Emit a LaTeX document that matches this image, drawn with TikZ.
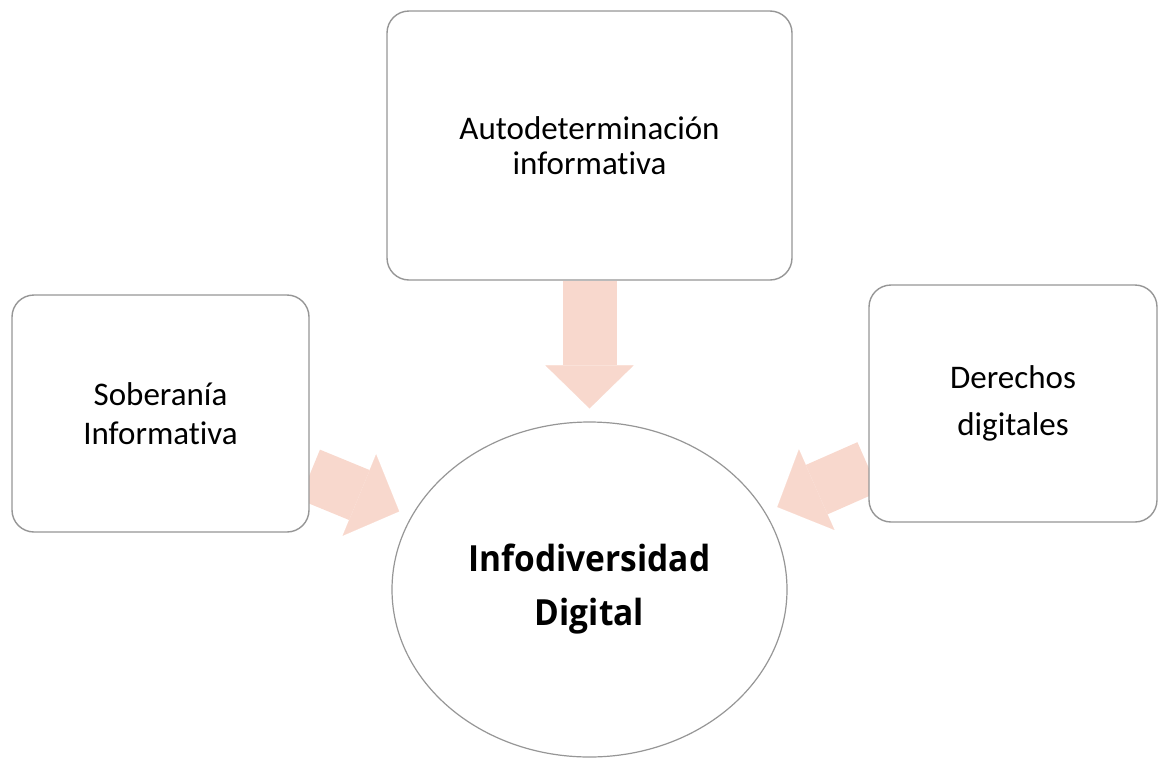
\documentclass[tikz,border=0pt]{standalone}
\usepackage{fontspec}
\setmainfont{Carlito}[Ligatures=NoCommon]
\newfontfamily\boldtitle[FakeStretch=0.93]{Open Sans}
\usetikzlibrary{arrows.meta,backgrounds,shapes.geometric}
\definecolor{arrowfill}{RGB}{248,216,205}
\definecolor{boxline}{RGB}{150,150,150}
\tikzset{
  stepbox/.style={draw=boxline, line width=1.4pt, fill=white, rounded corners=22pt,
    align=center, inner sep=0pt},
  hubnode/.style={draw=boxline, line width=1.2pt, fill=white, ellipse, inner sep=0pt,
    align=center, font=\boldtitle\bfseries\fontsize{36}{54}\selectfont},
  bigarrow/.style={draw=arrowfill, fill=arrowfill, line width=54pt,
    -{Triangle[length=43pt, width=88pt, line width=0.1pt]}, shorten >=13pt}
}
\begin{document}
\begin{tikzpicture}[x=1pt,y=-1pt]
\useasboundingbox (0,0) rectangle (1158,758);
\node[stepbox, minimum width=405pt, minimum height=269pt, font=\fontsize{33}{35}\selectfont] (auto) at (589.5,145.5)
  {Autodeterminación\\informativa};
\node[stepbox, minimum width=297pt, minimum height=237pt, font=\fontsize{33}{39}\selectfont] (sob) at (160.5,413.5)
  {Soberanía\\Informativa};
\node[stepbox, minimum width=288pt, minimum height=237pt, font=\fontsize{33}{47}\selectfont] (der) at (1013,403.5)
  {Derechos\\digitales};
\node[hubnode, minimum width=395pt, minimum height=335pt] (hub) at (589.5,589.5)
  {Infodiversidad\\Digital};
\begin{scope}[on background layer]
  \draw[bigarrow] (auto) -- (hub);
  \draw[bigarrow] (sob) -- (hub);
  \draw[bigarrow] (der) -- (hub);
\end{scope}
\end{tikzpicture}
\end{document}
